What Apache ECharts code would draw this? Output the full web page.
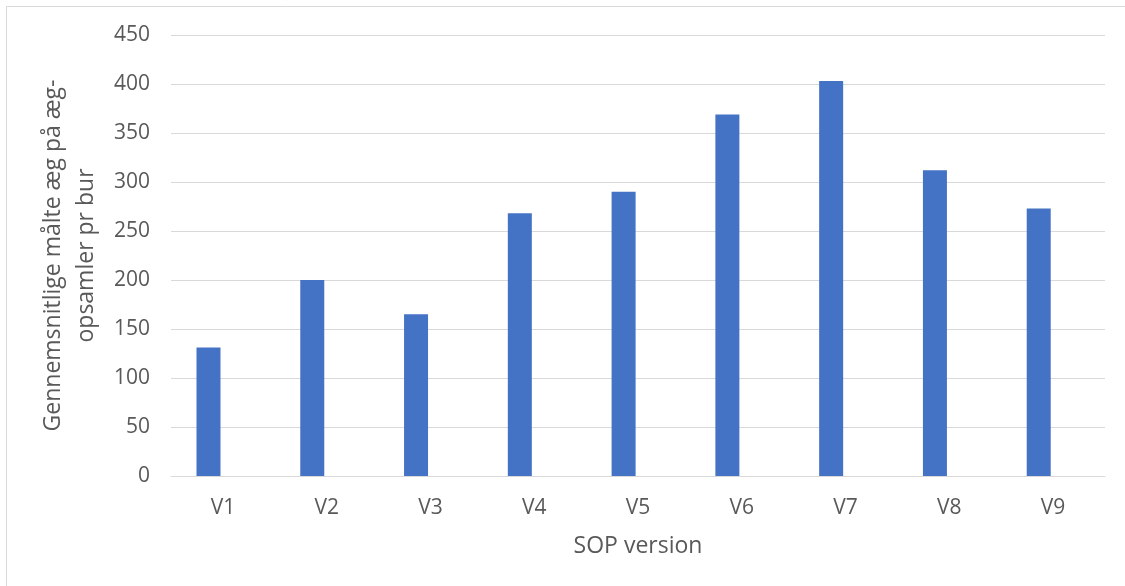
<!DOCTYPE html>
<html>
<head>
<meta charset="utf-8">
<script src="https://cdn.jsdelivr.net/npm/echarts@6/dist/echarts.min.js"></script>
<style>
  html, body { margin: 0; padding: 0; background: #fff; }
  #chart { width: 1125px; height: 586px; }
</style>
</head>
<body>
<div id="chart"></div>
<script>
// data
const categories = ['V1', 'V2', 'V3', 'V4', 'V5', 'V6', 'V7', 'V8', 'V9']
const eggValues = [131, 200, 165, 268, 290, 369, 403, 312, 273]
const emptySeries = [null, null, null, null, null, null, null, null, null]

const textColor = '#595959'
const lineColor = '#d9d9d9'
const fontFamily = '"Open Sans", "Noto Sans", sans-serif'

const chart = echarts.init(document.getElementById('chart'))

const option = {
  animation: false,
  backgroundColor: '#fff',
  textStyle: { fontFamily: fontFamily },
  graphic: [
    {
      type: 'rect',
      shape: { x: 6.5, y: 6.5, width: 1140, height: 620 },
      style: { fill: 'none', stroke: lineColor, lineWidth: 1 },
      silent: true
    }
  ],
  grid: {
    left: 171,
    right: 20,
    top: 35,
    bottom: 110
  },
  xAxis: {
    type: 'category',
    data: categories,
    name: 'SOP version',
    nameLocation: 'middle',
    nameGap: 59,
    nameTextStyle: { color: textColor, fontSize: 23, fontFamily: fontFamily },
    axisLine: { lineStyle: { color: lineColor, width: 1 } },
    axisTick: { show: false },
    axisLabel: { color: textColor, fontSize: 21, margin: 22 }
  },
  yAxis: {
    type: 'value',
    min: 0,
    max: 450,
    interval: 50,
    name: 'Gennemsnitlige målte æg på æg-\nopsamler pr bur',
    nameLocation: 'middle',
    nameRotate: 90,
    nameGap: 64,
    nameTextStyle: { color: textColor, fontSize: 23, lineHeight: 33, fontFamily: fontFamily },
    axisLine: { show: false },
    axisTick: { show: false },
    axisLabel: { color: textColor, fontSize: 21, margin: 21 },
    splitLine: { lineStyle: { color: lineColor, width: 1 } }
  },
  series: [
    {
      type: 'bar',
      data: eggValues,
      barWidth: 24,
      barGap: '20%',
      itemStyle: { color: '#4472c4' }
    },
    {
      type: 'bar',
      data: emptySeries,
      barWidth: 24
    }
  ]
}

chart.setOption(option)
</script>
</body>
</html>
